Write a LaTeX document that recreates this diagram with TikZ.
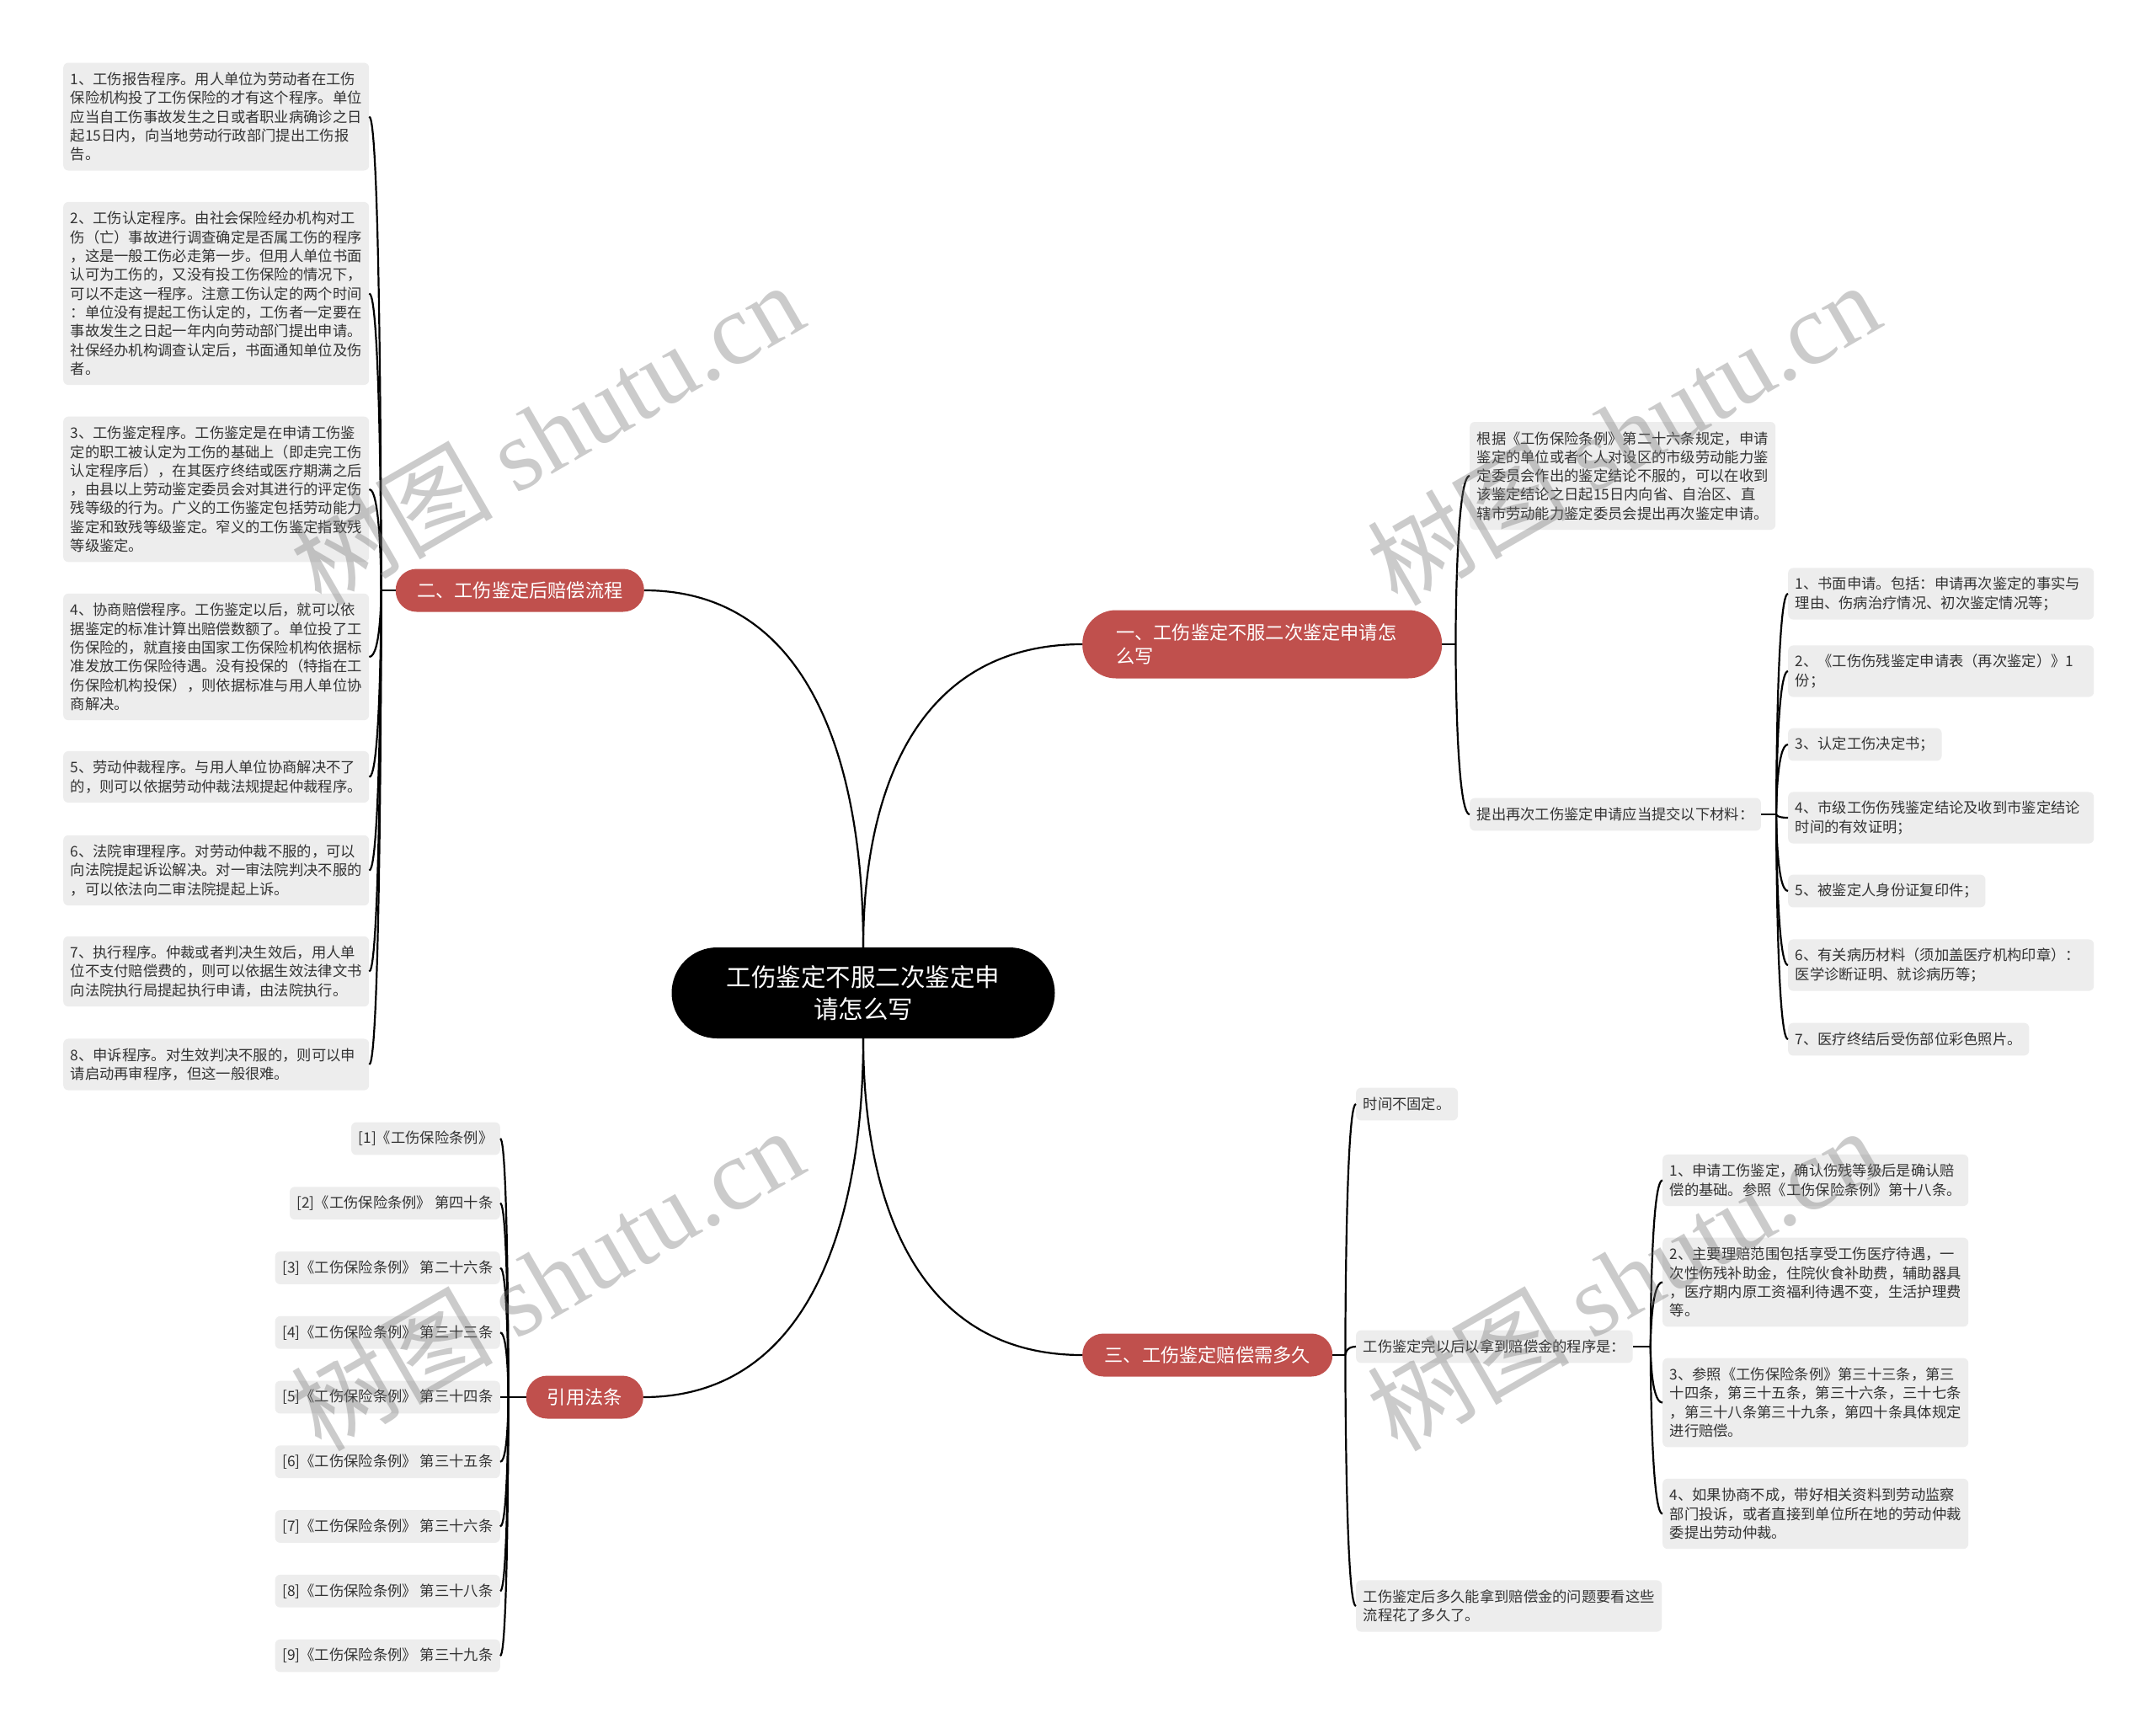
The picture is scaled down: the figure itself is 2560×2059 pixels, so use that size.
\documentclass[tikz,border=0pt]{standalone}
\usepackage{fontspec}
\setmainfont{Noto Sans CJK SC}
\newfontfamily\wmserif{Liberation Serif}
\newfontfamily\wmcjk{Noto Sans CJK SC}
\definecolor{branchred}{RGB}{192,80,77}
\definecolor{leafbg}{RGB}{237,237,237}
\definecolor{leaftext}{RGB}{51,51,51}
\definecolor{wmgray}{RGB}{120,120,120}
\newcommand\leaffont{\fontsize{17.3pt}{22.3pt}\selectfont}
\newcommand\branchfont{\fontsize{22.2pt}{28pt}\selectfont}
\newcommand\rootfont{\fontsize{29.5pt}{38pt}\selectfont}
\tikzset{
  leaf/.style={rectangle, rounded corners=6pt, fill=leafbg, text=leaftext, font=\leaffont,
    align=left, inner xsep=8.5pt, inner ysep=2pt, minimum height=38.8pt},
  lw/.style={text width=346pt},
  h2/.style={minimum height=61.1pt},
  h3/.style={minimum height=83.4pt},
  h4/.style={minimum height=105.7pt},
  h5/.style={minimum height=128pt},
  h6/.style={minimum height=150.3pt},
  h7/.style={minimum height=172.6pt},
  h9/.style={minimum height=217.2pt},
  branch/.style={rectangle, rounded corners=25pt, fill=branchred, text=white, font=\branchfont,
    inner sep=0pt, minimum height=51pt, align=center},
  link/.style={draw=black, line width=2.2pt},
  wm/.style={text=wmgray, text opacity=0.38, inner sep=0pt, rotate=30}
}
\begin{document}
\begin{tikzpicture}[x=1pt, y=-1pt]
\useasboundingbox[fill=white] (0,0) rectangle (2560,2059);

% ---------- root and branches ----------
\node[rectangle, rounded corners=54pt, fill=black, text=white, font=\rootfont, align=center,
  minimum width=455pt, minimum height=108pt, inner sep=0pt] (root) at (1025,1179)
  {工伤鉴定不服二次鉴定申\\请怎么写};

\node[branch, rounded corners=40pt, minimum height=81pt, text width=347pt, align=left,
  inner xsep=40pt, anchor=west] (b1) at (1285,765) {一、工伤鉴定不服二次鉴定申请怎\\么写};
\node[branch, minimum width=295pt, anchor=east] (b2) at (765,701) {二、工伤鉴定后赔偿流程};
\node[branch, minimum width=297pt, anchor=west] (b3) at (1285,1609) {三、工伤鉴定赔偿需多久};
\node[branch, minimum width=139pt, anchor=east] (b4) at (764,1659) {引用法条};

\draw[link] (root.north) .. controls +(0,-180) and +(-200,0) .. (b1.west);
\draw[link] (root.north) .. controls +(0,-212) and +(200,0) .. (b2.east);
\draw[link] (root.south) .. controls +(0,188) and +(-200,0) .. (b3.west);
\draw[link] (root.south) .. controls +(0,213) and +(200,0) .. (b4.east);

% ---------- branch 一 ----------
\node[leaf, lw, h5, anchor=west] (a1) at (1745,565) {根据《工伤保险条例》第二十六条规定，申请\\鉴定的单位或者个人对设区的市级劳动能力鉴\\定委员会作出的鉴定结论不服的，可以在收到\\该鉴定结论之日起15日内向省、自治区、直\\辖市劳动能力鉴定委员会提出再次鉴定申请。};
\node[leaf, anchor=west] (a2) at (1745,967) {提出再次工伤鉴定申请应当提交以下材料：};

\node[leaf, lw, h2, anchor=west] (m1) at (2123,705) {1、书面申请。包括：申请再次鉴定的事实与\\理由、伤病治疗情况、初次鉴定情况等；};
\node[leaf, lw, h2, anchor=west] (m2) at (2123,797) {2、《工伤伤残鉴定申请表（再次鉴定）》1\\份；};
\node[leaf, anchor=west] (m3) at (2123,884) {3、认定工伤决定书；};
\node[leaf, lw, h2, anchor=west] (m4) at (2123,971) {4、市级工伤伤残鉴定结论及收到市鉴定结论\\时间的有效证明；};
\node[leaf, anchor=west] (m5) at (2123,1058) {5、被鉴定人身份证复印件；};
\node[leaf, lw, h2, anchor=west] (m6) at (2123,1146) {6、有关病历材料（须加盖医疗机构印章）：\\医学诊断证明、就诊病历等；};
\node[leaf, anchor=west] (m7) at (2123,1234) {7、医疗终结后受伤部位彩色照片。};

\coordinate (j1) at ([xshift=16pt]b1.east);
\draw[link] (b1.east) -- (j1);
\foreach \c in {a1,a2}
  \draw[link] (j1) .. controls (j1) and (j1 |- \c.west) .. (\c.west);
\coordinate (j1b) at ([xshift=18pt]a2.east);
\draw[link] (a2.east) -- (j1b);
\foreach \c in {m1,m2,m3,m4,m5,m6,m7}
  \draw[link] (j1b) .. controls (j1b) and (j1b |- \c.west) .. (\c.west);

% ---------- branch 二 ----------
\node[leaf, lw, h5, anchor=west] (l1) at (75,138.5) {1、工伤报告程序。用人单位为劳动者在工伤\\保险机构投了工伤保险的才有这个程序。单位\\应当自工伤事故发生之日或者职业病确诊之日\\起15日内，向当地劳动行政部门提出工伤报\\告。};
\node[leaf, lw, h9, anchor=west] (l2) at (75,348.5) {2、工伤认定程序。由社会保险经办机构对工\\伤（亡）事故进行调查确定是否属工伤的程序\\，这是一般工伤必走第一步。但用人单位书面\\认可为工伤的，又没有投工伤保险的情况下，\\可以不走这一程序。注意工伤认定的两个时间\\：单位没有提起工伤认定的，工伤者一定要在\\事故发生之日起一年内向劳动部门提出申请。\\社保经办机构调查认定后，书面通知单位及伤\\者。};
\node[leaf, lw, h7, anchor=west] (l3) at (75,581) {3、工伤鉴定程序。工伤鉴定是在申请工伤鉴\\定的职工被认定为工伤的基础上（即走完工伤\\认定程序后），在其医疗终结或医疗期满之后\\，由县以上劳动鉴定委员会对其进行的评定伤\\残等级的行为。广义的工伤鉴定包括劳动能力\\鉴定和致残等级鉴定。窄义的工伤鉴定指致残\\等级鉴定。};
\node[leaf, lw, h6, anchor=west] (l4) at (75,780) {4、协商赔偿程序。工伤鉴定以后，就可以依\\据鉴定的标准计算出赔偿数额了。单位投了工\\伤保险的，就直接由国家工伤保险机构依据标\\准发放工伤保险待遇。没有投保的（特指在工\\伤保险机构投保），则依据标准与用人单位协\\商解决。};
\node[leaf, lw, h2, anchor=west] (l5) at (75,922.5) {5、劳动仲裁程序。与用人单位协商解决不了\\的，则可以依据劳动仲裁法规提起仲裁程序。};
\node[leaf, lw, h3, anchor=west] (l6) at (75,1033.5) {6、法院审理程序。对劳动仲裁不服的，可以\\向法院提起诉讼解决。对一审法院判决不服的\\，可以依法向二审法院提起上诉。};
\node[leaf, lw, h3, anchor=west] (l7) at (75,1153.5) {7、执行程序。仲裁或者判决生效后，用人单\\位不支付赔偿费的，则可以依据生效法律文书\\向法院执行局提起执行申请，由法院执行。};
\node[leaf, lw, h2, anchor=west] (l8) at (75,1264) {8、申诉程序。对生效判决不服的，则可以申\\请启动再审程序，但这一般很难。};

\coordinate (j2) at ([xshift=-17pt]b2.west);
\draw[link] (b2.west) -- (j2);
\foreach \c in {l1,l2,l3,l4,l5,l6,l7,l8}
  \draw[link] (j2) .. controls (j2) and (j2 |- \c.east) .. (\c.east);

% ---------- branch 三 ----------
\node[leaf, anchor=west] (t1) at (1610,1311) {时间不固定。};
\node[leaf, anchor=west] (t2) at (1610,1599) {工伤鉴定完以后以拿到赔偿金的程序是：};
\node[leaf, lw, h2, anchor=west] (t3) at (1610,1907) {工伤鉴定后多久能拿到赔偿金的问题要看这些\\流程花了多久了。};

\node[leaf, lw, h2, anchor=west] (s1) at (1974,1401.5) {1、申请工伤鉴定，确认伤残等级后是确认赔\\偿的基础。参照《工伤保险条例》第十八条。};
\node[leaf, lw, h4, anchor=west] (s2) at (1974,1522.5) {2、主要理赔范围包括享受工伤医疗待遇，一\\次性伤残补助金，住院伙食补助费，辅助器具\\，医疗期内原工资福利待遇不变，生活护理费\\等。};
\node[leaf, lw, h4, anchor=west] (s3) at (1974,1665.5) {3、参照《工伤保险条例》第三十三条，第三\\十四条，第三十五条，第三十六条，三十七条\\，第三十八条第三十九条，第四十条具体规定\\进行赔偿。};
\node[leaf, lw, h3, anchor=west] (s4) at (1974,1797.5) {4、如果协商不成，带好相关资料到劳动监察\\部门投诉，或者直接到单位所在地的劳动仲裁\\委提出劳动仲裁。};

\coordinate (j3) at ([xshift=15pt]b3.east);
\draw[link] (b3.east) -- (j3);
\foreach \c in {t1,t2,t3}
  \draw[link] (j3) .. controls (j3) and (j3 |- \c.west) .. (\c.west);
\coordinate (j3b) at ([xshift=21pt]t2.east);
\draw[link] (t2.east) -- (j3b);
\foreach \c in {s1,s2,s3,s4}
  \draw[link] (j3b) .. controls (j3b) and (j3b |- \c.west) .. (\c.west);

% ---------- branch 引用法条 ----------
\node[leaf, anchor=east] (r1) at (594,1352) {[1]《工伤保险条例》};
\node[leaf, anchor=east] (r2) at (594,1428.75) {[2]《工伤保险条例》 第四十条};
\node[leaf, anchor=east] (r3) at (594,1505.5) {[3]《工伤保险条例》 第二十六条};
\node[leaf, anchor=east] (r4) at (594,1582.25) {[4]《工伤保险条例》 第三十三条};
\node[leaf, anchor=east] (r5) at (594,1659) {[5]《工伤保险条例》 第三十四条};
\node[leaf, anchor=east] (r6) at (594,1735.75) {[6]《工伤保险条例》 第三十五条};
\node[leaf, anchor=east] (r7) at (594,1812.5) {[7]《工伤保险条例》 第三十六条};
\node[leaf, anchor=east] (r8) at (594,1889.25) {[8]《工伤保险条例》 第三十八条};
\node[leaf, anchor=east] (r9) at (594,1966) {[9]《工伤保险条例》 第三十九条};

\coordinate (j4) at ([xshift=-21pt]b4.west);
\draw[link] (b4.west) -- (j4);
\foreach \c in {r1,r2,r3,r4,r5,r6,r7,r8,r9}
  \draw[link] (j4) .. controls (j4) and (j4 |- \c.east) .. (\c.east);

% ---------- watermarks ----------
\node[wm] (wm1) at (649,514) {\fontsize{120pt}{120pt}\selectfont\wmcjk 树图 \wmserif shutu.cn};
\node[wm] (wm2) at (1927,514) {\fontsize{120pt}{120pt}\selectfont\wmcjk 树图 \wmserif shutu.cn};
\node[wm] (wm3) at (649,1518) {\fontsize{120pt}{120pt}\selectfont\wmcjk 树图 \wmserif shutu.cn};
\node[wm] (wm4) at (1927,1518) {\fontsize{120pt}{120pt}\selectfont\wmcjk 树图 \wmserif shutu.cn};
\end{tikzpicture}
\end{document}
